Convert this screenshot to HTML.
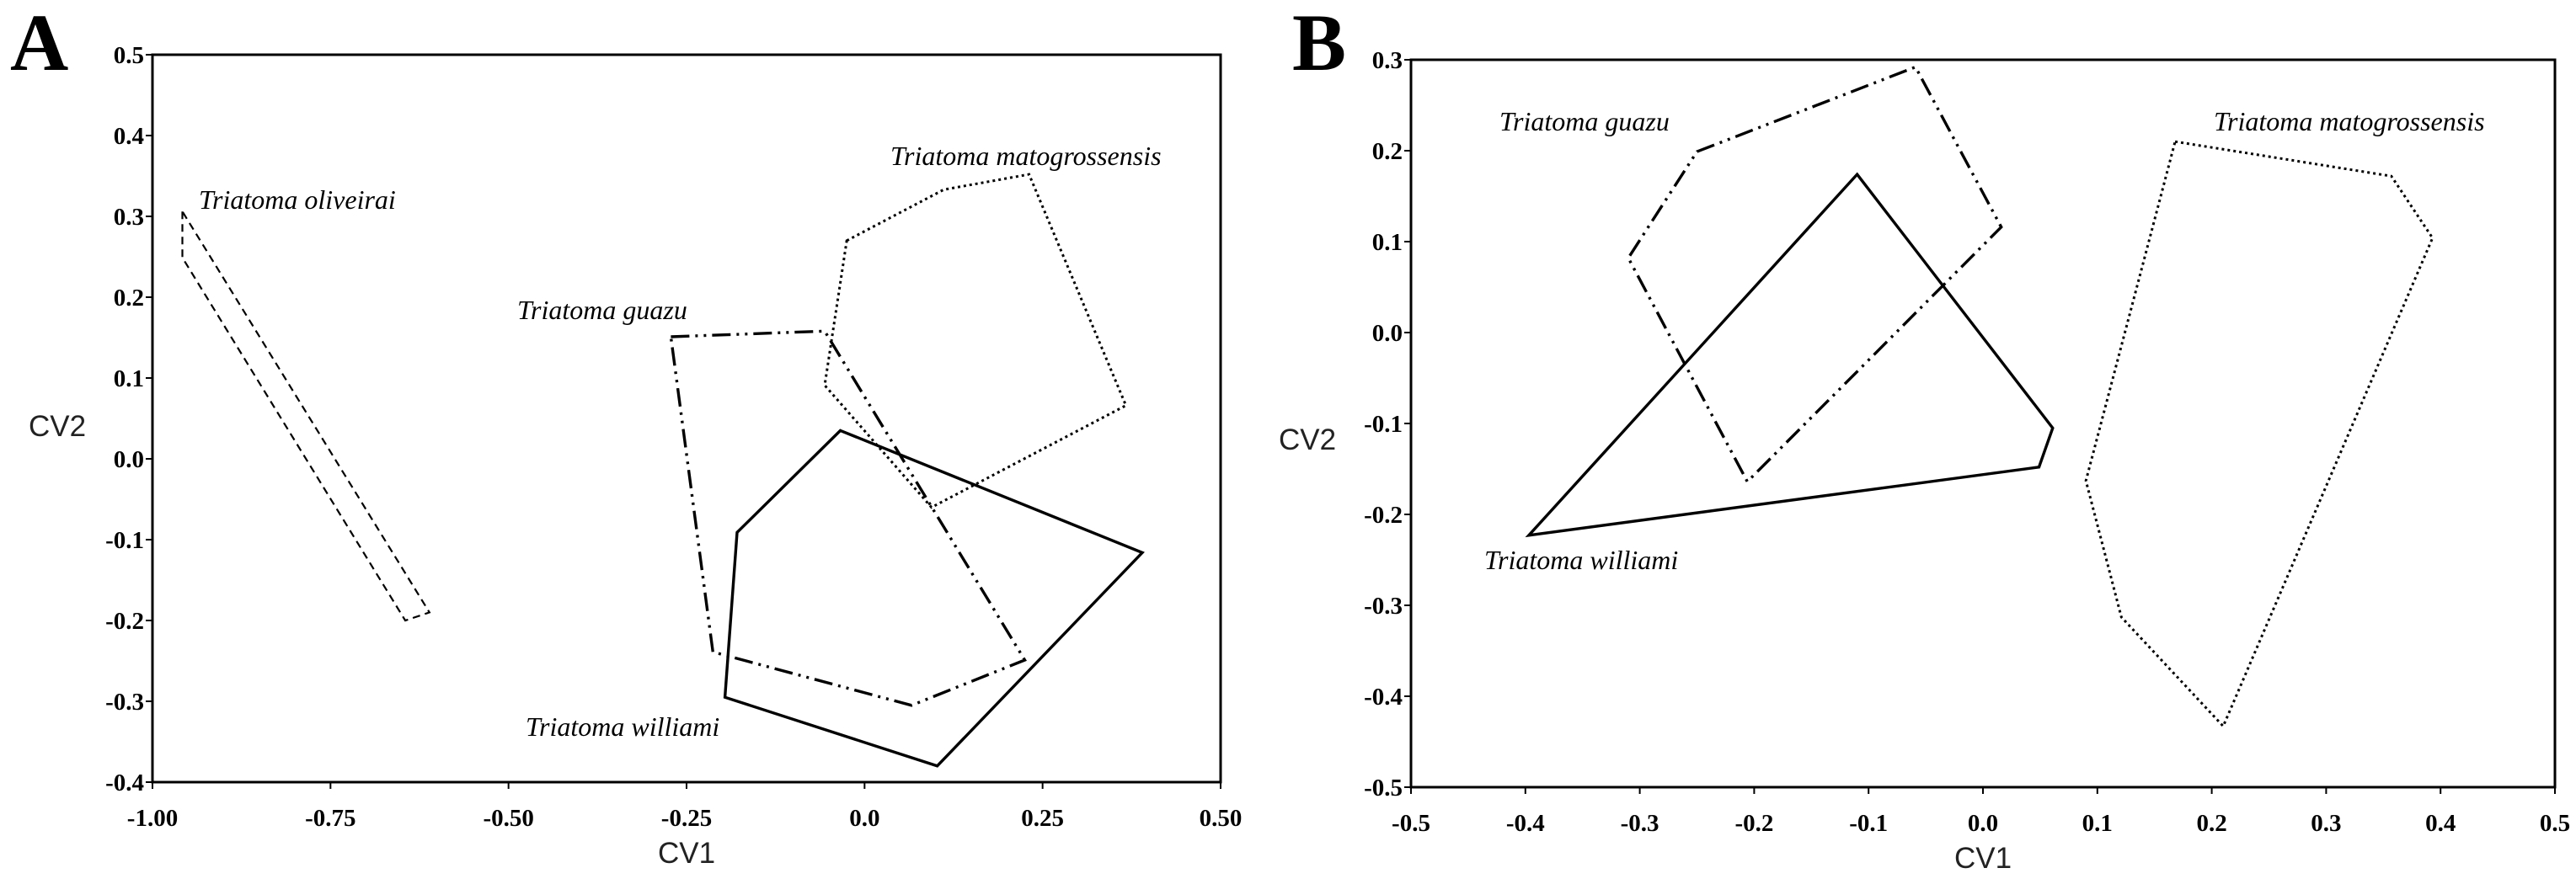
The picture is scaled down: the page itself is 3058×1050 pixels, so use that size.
<!DOCTYPE html>
<html><head><meta charset="utf-8"><style>
html,body{margin:0;padding:0;background:#fff;}
svg{display:block;}
.tick{font-family:"Liberation Serif",serif;font-weight:bold;font-size:29px;fill:#000;}
.ax{font-family:"Liberation Sans",sans-serif;font-size:35px;fill:#222;}
.lab{font-family:"Liberation Serif",serif;font-style:italic;font-size:32px;fill:#000;}
.pl{font-family:"Liberation Serif",serif;font-weight:bold;font-size:96px;fill:#000;}
</style></head><body>
<svg id="chart" width="3058" height="1050" viewBox="0 0 3058 1050"></svg>
<script>
// Panel A data
const aXTicks = [-1.00,-0.75,-0.50,-0.25,0.0,0.25,0.50];
const aXTickLabels = ["-1.00","-0.75","-0.50","-0.25","0.0","0.25","0.50"];
const aYTicks = [0.5,0.4,0.3,0.2,0.1,0.0,-0.1,-0.2,-0.3,-0.4];
const aYTickLabels = ["0.5","0.4","0.3","0.2","0.1","0.0","-0.1","-0.2","-0.3","-0.4"];
const aOliveiraiX = [-0.958,-0.958,-0.645,-0.611];
const aOliveiraiY = [0.306,0.249,-0.200,-0.190];
const aMatoX = [-0.025,0.111,0.231,0.367,0.094,-0.056];
const aMatoY = [0.270,0.333,0.352,0.066,-0.060,0.091];
const aGuazuX = [-0.272,-0.056,0.225,0.066,-0.213];
const aGuazuY = [0.151,0.158,-0.249,-0.305,-0.239];
const aWilliamiX = [-0.034,0.390,0.102,-0.196,-0.179];
const aWilliamiY = [0.035,-0.116,-0.380,-0.295,-0.091];
// Panel B data
const bXTicks = [-0.5,-0.4,-0.3,-0.2,-0.1,0.0,0.1,0.2,0.3,0.4,0.5];
const bXTickLabels = ["-0.5","-0.4","-0.3","-0.2","-0.1","0.0","0.1","0.2","0.3","0.4","0.5"];
const bYTicks = [0.3,0.2,0.1,0.0,-0.1,-0.2,-0.3,-0.4,-0.5];
const bYTickLabels = ["0.3","0.2","0.1","0.0","-0.1","-0.2","-0.3","-0.4","-0.5"];
const bGuazuX = [-0.25,-0.059,0.016,-0.206,-0.310];
const bGuazuY = [0.199,0.292,0.116,-0.164,0.082];
const bWilliamiX = [-0.110,0.061,0.049,-0.397];
const bWilliamiY = [0.174,-0.105,-0.148,-0.223];
const bMatoX = [0.168,0.357,0.393,0.210,0.121,0.090];
const bMatoY = [0.210,0.172,0.104,-0.433,-0.313,-0.163];

const NS="http://www.w3.org/2000/svg";
const svg=document.getElementById('chart');
function mk(tag,attrs,parent){const e=document.createElementNS(NS,tag);for(const k in attrs)e.setAttribute(k,attrs[k]);(parent||svg).appendChild(e);return e;}
const styles={solid:{"stroke-width":3.4},dash:{"stroke-width":2.2,"stroke-dasharray":"9 6"},dot:{"stroke-width":3,"stroke-dasharray":"3 4"},dashdot:{"stroke-width":3.4,"stroke-dasharray":"22 7 3 7 3 7"}};

function panel(cfg){
  const g=mk('g',{});
  
  
  const sx=v=>cfg.L+(v-cfg.x0)/(cfg.x1-cfg.x0)*(cfg.R-cfg.L);
  const sy=v=>cfg.T+(cfg.y0-v)/(cfg.y0-cfg.y1)*(cfg.B-cfg.T);
  const fr=mk('rect',{x:cfg.L,y:cfg.T,width:cfg.R-cfg.L,height:cfg.B-cfg.T,fill:'none',stroke:'#000','stroke-width':3},g);
  
  
  cfg.xt.forEach((v,i)=>{
    const x=sx(v);
    mk('line',{x1:x,x2:x,y1:cfg.B,y2:cfg.B+8,stroke:'#000','stroke-width':2},g);
    const t=mk('text',{x:x,y:cfg.B+52,'text-anchor':'middle',class:'tick'},g);
    t.textContent=cfg.xl[i];
    
    
  });
  cfg.yt.forEach((v,i)=>{
    const y=sy(v);
    mk('line',{x1:cfg.L-8,x2:cfg.L,y1:y,y2:y,stroke:'#000','stroke-width':2},g);
    const t=mk('text',{x:cfg.L-10,y:y+10,'text-anchor':'end',class:'tick'},g);
    t.textContent=cfg.yl[i];
    
    
  });
  cfg.series.forEach(s=>{
    const pts=s.x.map((v,i)=>sx(v).toFixed(1)+','+sy(s.y[i]).toFixed(1)).join(' ');
    const p=mk('polygon',Object.assign({points:pts,fill:'none',stroke:'#000','stroke-linejoin':'miter'},styles[s.st]),g);
    
    
  });
  cfg.labels.forEach(l=>{
    const t=mk('text',{x:l[1],y:l[2],class:'lab'},g);
    t.textContent=l[0];
    
    
  });
  const xa=mk('text',{x:(cfg.L+cfg.R)/2,y:cfg.B+96,'text-anchor':'middle',class:'ax'},g);
  xa.textContent='CV1';
  
  
  const ya=mk('text',{x:cfg.cvx,y:cfg.cvy,'text-anchor':'middle',class:'ax'},g);
  ya.textContent='CV2';
  
  
  const pl=mk('text',{x:cfg.plx,y:83,class:'pl'},g);
  pl.textContent=cfg.letter;
  
  
}

panel({name:'panel-a',letter:'A',plx:12,L:181,R:1449,T:65,B:929,x0:-1,x1:0.5,y0:0.5,y1:-0.4,
  xt:aXTicks,xl:aXTickLabels,yt:aYTicks,yl:aYTickLabels,cvx:68,cvy:518,
  series:[{name:'oliveirai-hull',x:aOliveiraiX,y:aOliveiraiY,st:'dash'},
          {name:'matogrossensis-hull',x:aMatoX,y:aMatoY,st:'dot'},
          {name:'guazu-hull',x:aGuazuX,y:aGuazuY,st:'dashdot'},
          {name:'williami-hull',x:aWilliamiX,y:aWilliamiY,st:'solid'}],
  labels:[['Triatoma oliveirai',236,248],['Triatoma matogrossensis',1057,196],['Triatoma guazu',614,379],['Triatoma williami',624,874]]});
panel({name:'panel-b',letter:'B',plx:1534,L:1675,R:3033,T:71,B:935,x0:-0.5,x1:0.5,y0:0.3,y1:-0.5,
  xt:bXTicks,xl:bXTickLabels,yt:bYTicks,yl:bYTickLabels,cvx:1552,cvy:534,
  series:[{name:'guazu-hull',x:bGuazuX,y:bGuazuY,st:'dashdot'},
          {name:'williami-hull',x:bWilliamiX,y:bWilliamiY,st:'solid'},
          {name:'matogrossensis-hull',x:bMatoX,y:bMatoY,st:'dot'}],
  labels:[['Triatoma guazu',1780,155],['Triatoma matogrossensis',2628,155],['Triatoma williami',1762,676]]});
</script>
</body></html>
